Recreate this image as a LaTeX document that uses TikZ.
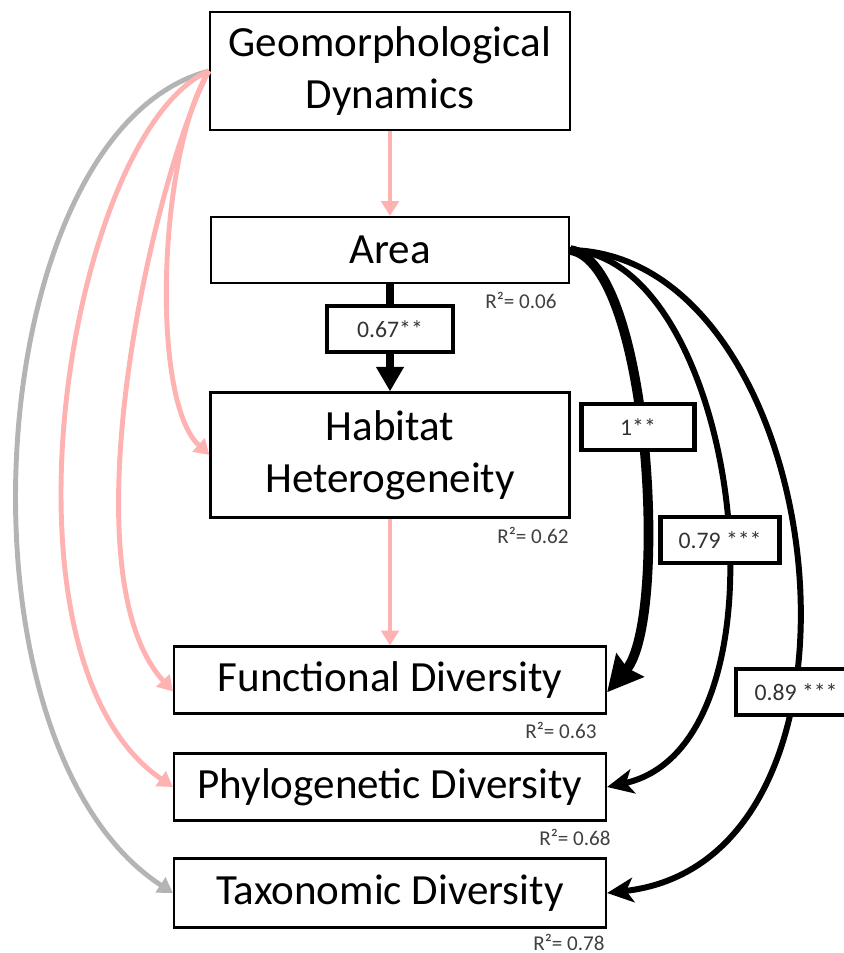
\documentclass[tikz,border=0pt]{standalone}
\usepackage{fontspec}
\setmainfont{Carlito}
\usetikzlibrary{arrows.meta}
\definecolor{geopink}{RGB}{255,178,178}
\definecolor{geogray}{RGB}{180,180,180}

\begin{document}
\begin{tikzpicture}[x=0.2mm, y=-0.2mm,
    varbox/.style={draw, line width=1.2pt, fill=white, align=center, inner sep=2pt,
      font=\fontsize{24.5}{29.5}\selectfont},
    coefbox/.style={draw, line width=2.3pt, fill=white, text=black!80, inner sep=0pt,
      minimum height=9.2mm, font=\fontsize{13.5}{16}\selectfont},
    rsq/.style={text=black!75, inner sep=0pt, font=\fontsize{12}{14}\selectfont},
    geoarrow/.style={line width=2.8pt, draw=geopink, -{Triangle[length=8.5pt,width=10pt]}},
    grayarrow/.style={line width=2.8pt, draw=geogray, -{Triangle[length=8.5pt,width=10pt]}},
    areaarrow/.style={line width=3.4pt, -{Stealth[length=15pt,width=14pt,inset=4pt]}},
    bigarrow/.style={line width=5.5pt, -{Stealth[length=20pt,width=20pt,inset=2pt]}}
  ]
    \useasboundingbox (0,0) rectangle (843,953);

    % Variables
    \node[varbox, minimum width=72mm, minimum height=23.6mm] (geo) at (390,71) {Geomorphological\\Dynamics};
    \node[varbox, minimum width=71.6mm, minimum height=13.2mm] (area) at (390,250) {Area};
    \node[varbox, minimum width=71.8mm, minimum height=25mm] (habitat) at (390,455) {Habitat\\Heterogeneity};
    \node[varbox, minimum width=86.4mm, minimum height=13.4mm] (func) at (390,680) {Functional Diversity};
    \node[varbox, minimum width=86.4mm, minimum height=13.4mm] (phylo) at (390,787) {Phylogenetic Diversity};
    \node[varbox, minimum width=86.4mm, minimum height=13.8mm] (taxo) at (390,893) {Taxonomic Diversity};

    % R squared
    \node[rsq] (rarea) at (521,300) {R²= 0.06};
    \node[rsq] (rhab) at (533,535) {R²= 0.62};
    \node[rsq] (rfunc) at (561,730) {R²= 0.63};
    \node[rsq] (rphylo) at (575,837) {R²= 0.68};
    \node[rsq] (rtaxo) at (569,942) {R²= 0.78};

    % Paths from geomorphological dynamics
    \draw[geoarrow] (geo) -- (area);
    \draw[grayarrow] (geo.west) .. controls +(-230,60) and +(-230,-150) .. (taxo.west);
    \draw[geoarrow] (geo.west) .. controls +(-139,60) and +(-190,-130) .. (phylo.west);
    \draw[geoarrow] (geo.west) .. controls +(-54,100) and +(-110,-120) .. ([yshift=-6.5pt]func.west);
    \draw[geoarrow] (geo.west) .. controls +(-50,80) and +(-60,-55) .. (habitat.west);
    \draw[geoarrow] (habitat) -- (func);

    % Paths from area
    \draw[line width=4.5pt, -{Triangle[length=14pt,width=15pt]}] (area) -- (habitat);
    \draw[bigarrow] (area.east) .. controls +(80,12) and +(62,-73) .. ([yshift=-7pt]func.east);
    \draw[areaarrow] (area.east) .. controls +(170,8) and +(193,-42) .. (phylo.east);
    \draw[areaarrow] (area.east) .. controls +(260,5) and +(293,-33) .. (taxo.east);

    % Coefficients
    \node[coefbox, minimum width=25.2mm] (c1) at (390,329) {0.67**};
    \node[coefbox, minimum width=22.6mm] (c2) at (638,427) {1**};
    \node[coefbox, minimum width=23.8mm] (c3) at (720,540) {0.79 ***};
    \node[coefbox, minimum width=24mm] (c4) at (796,692) {0.89 ***};
\end{tikzpicture}
\end{document}
